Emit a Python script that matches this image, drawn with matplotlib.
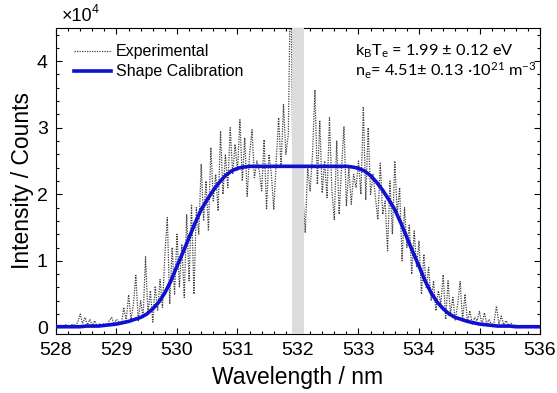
import numpy as np
import matplotlib.pyplot as plt
from matplotlib.ticker import MultipleLocator

plt.rcParams['font.family'] = ['Liberation Sans', 'DejaVu Sans']
plt.rcParams['mathtext.fontset'] = 'custom'
plt.rcParams['mathtext.rm'] = 'Lato'
plt.rcParams['mathtext.it'] = 'Lato'

# experimental spectrum, 528-536 nm in 0.04 nm steps (units of 1e4 counts)
wl_exp = np.round(np.linspace(528.0, 536.0, 201), 2)
counts_exp = [
    0.02, 0.01, 0.03, 0.02, 0.04, 0.01, 0.03, 0.05, 0.02, 0.08,
    0.20, 0.06, 0.15, 0.04, 0.12, 0.03, 0.10, 0.02, 0.05, 0.03,
    0.06, 0.02, 0.10, 0.15, 0.05, 0.12, 0.08, 0.04, 0.30, 0.10,
    0.49, 0.12, 0.35, 0.78, 0.10, 0.40, 0.15, 1.06, 0.20, 0.55,
    0.08, 0.62, 0.25, 0.72, 0.30, 1.10, 1.65, 0.35, 1.20, 0.50,
    1.40, 0.60, 1.25, 0.45, 1.70, 0.70, 1.85, 0.50, 1.80, 1.40,
    2.45, 1.60, 2.20, 1.45, 2.70, 1.90, 2.30, 1.75, 2.95, 2.00,
    2.60, 2.10, 3.00, 2.30, 2.75, 2.35, 3.12, 2.20, 2.85, 1.97,
    2.60, 2.97, 2.25, 2.50, 2.35, 2.05, 2.82, 1.77, 2.60, 2.30,
    1.77, 2.50, 3.15, 2.40, 3.35, 2.60, 2.90, 5.50, 1.97, 2.40,
    2.30, 2.10, 2.00, 1.42, 2.40, 2.05, 2.60, 3.57, 2.15, 3.10,
    2.02, 2.50, 1.95, 3.15, 2.05, 1.62, 2.80, 1.70, 2.40, 3.02,
    1.82, 2.40, 1.85, 2.30, 2.10, 2.50, 2.00, 3.32, 1.92, 3.00,
    2.00, 2.30, 1.95, 1.62, 2.47, 1.70, 1.90, 1.15, 2.20, 1.40,
    2.50, 1.70, 2.10, 1.00, 1.80, 1.20, 1.55, 0.80, 1.45, 0.90,
    1.30, 0.50, 1.10, 0.60, 0.90, 0.40, 0.70, 0.25, 0.55, 0.35,
    0.79, 0.12, 0.70, 0.20, 0.45, 0.10, 0.35, 0.69, 0.10, 0.50,
    0.08, 0.25, 0.05, 0.15, 0.10, 0.24, 0.04, 0.22, 0.06, 0.12,
    0.03, 0.08, 0.32, 0.05, 0.17, 0.04, 0.10, 0.03, 0.06, 0.02,
    0.04, 0.01, 0.03, 0.02, 0.01, 0.02, 0.01, 0.02, 0.01, 0.02,
    0.01,
]

# shape calibration fit, 528-536 nm in 0.1 nm steps
wl_fit = np.round(np.linspace(528.0, 536.0, 81), 1)
counts_fit = [
    0.01, 0.01, 0.01, 0.01, 0.01, 0.02, 0.02, 0.02, 0.03, 0.04,
    0.05, 0.07, 0.09, 0.12, 0.15, 0.20, 0.28, 0.38, 0.52, 0.70,
    0.92, 1.13, 1.35, 1.57, 1.77, 1.92, 2.06, 2.18, 2.28, 2.35,
    2.39, 2.41, 2.42, 2.42, 2.42, 2.42, 2.42, 2.42, 2.42, 2.42,
    2.42, 2.42, 2.42, 2.42, 2.42, 2.42, 2.42, 2.42, 2.42, 2.41,
    2.39, 2.35, 2.28, 2.18, 2.06, 1.92, 1.77, 1.57, 1.35, 1.13,
    0.92, 0.70, 0.52, 0.38, 0.28, 0.20, 0.15, 0.12, 0.09, 0.07,
    0.05, 0.04, 0.03, 0.02, 0.02, 0.02, 0.01, 0.01, 0.01, 0.01,
    0.01,
]

# masked laser line
band = (531.9, 532.1)

fig = plt.figure(figsize=(5.57, 3.93), dpi=100)
ax = fig.add_axes([0.1005, 0.150, 0.869, 0.779])

ax.plot(wl_exp, counts_exp, color='#404040', lw=0.9, ls=(0, (1, 1)),
        label='Experimental', zorder=2)
ax.axvspan(band[0], band[1], color='#dcdcdc', lw=0, zorder=3)
ax.plot(wl_fit, counts_fit, color='#1010d0', lw=2.6,
        label='Shape Calibration', zorder=4)

ax.set_xlim(528, 536)
ax.set_ylim(-0.1, 4.5)
ax.xaxis.set_major_locator(MultipleLocator(1))
ax.xaxis.set_minor_locator(MultipleLocator(0.2))
ax.yaxis.set_major_locator(MultipleLocator(1))
ax.yaxis.set_minor_locator(MultipleLocator(0.2))
ax.tick_params(which='both', direction='in', top=True, right=True,
               labelsize=14, width=0.8)
ax.tick_params(which='major', length=4, pad=6)
ax.tick_params(which='minor', length=2.5)
ax.set_yticks([0, 1, 2, 3, 4])
ax.set_yticklabels(['0', '1', '2', '3', '4'])
ax.set_xlabel('Wavelength / nm', fontsize=16.5, labelpad=5)
ax.set_ylabel('Intensity / Counts', fontsize=16.5, labelpad=2)

fig.text(0.11, 0.958, '×10', fontsize=13, ha='left', va='center')
fig.text(0.11 + 30 / 557, 0.975, '4', fontsize=9, ha='left', va='center')

ax.legend(loc='upper left', frameon=False, fontsize=11.5, handlelength=2.3,
          handletextpad=0.3, borderaxespad=0, labelspacing=0.3,
          bbox_to_anchor=(67.6 / 557, 1 - 38 / 393),
          bbox_transform=fig.transFigure)

ann_font = ['Lato', 'DejaVu Sans']
fig.text(355 / 557, 1 - 56 / 393, r'k$_\mathrm{B}$T$_\mathrm{e}$ = 1.99 ± 0.12 eV',
         ha='left', va='baseline', fontsize=11.8, family=ann_font)
fig.text(355 / 557, 1 - 76 / 393, r'n$_\mathrm{e}$= 4.51± 0.13 ·10$^{21}$ m$^{-3}$',
         ha='left', va='baseline', fontsize=11.8, family=ann_font)

fig.savefig('out.png', dpi=100)
